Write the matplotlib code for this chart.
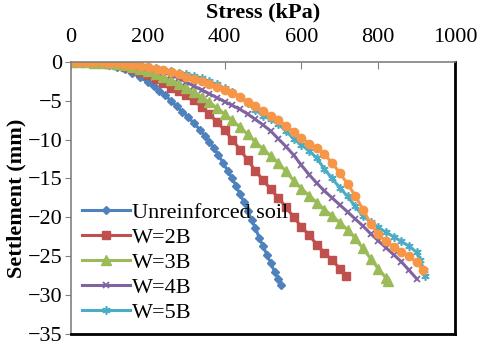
import matplotlib
matplotlib.use("Agg")
import matplotlib.pyplot as plt

plt.rcParams['font.family'] = ['Liberation Serif', 'DejaVu Serif']

# Data (stress kPa, settlement mm)
unr_x = [0, 20, 40, 60, 80, 100, 120, 140, 160, 180, 200, 215, 230, 245, 260, 275, 290, 305, 320, 335,
         348, 360, 372, 384, 396, 408, 420, 430, 440, 450, 460, 470, 480, 490, 500, 510, 520, 530, 540, 548]
unr_y = [0, 0, -0.05, -0.1, -0.2, -0.35, -0.6, -0.9, -1.4, -2.0, -2.6, -3.1, -3.7, -4.3, -5.0, -5.7, -6.4, -7.1, -7.9, -8.7,
         -9.5, -10.3, -11.1, -12.0, -13.0, -14.0, -15.0, -16.0, -17.0, -18.0, -19.2, -20.3, -21.4, -22.6, -23.7, -24.8, -25.9, -27.0, -28.0, -28.7]

w2_x = [0, 20, 40, 60, 80, 100, 120, 140, 160, 180, 200, 220, 240, 260, 280, 300, 320, 340, 360, 380,
        400, 420, 440, 460, 480, 500, 520, 540, 560, 580, 600, 620, 640, 660, 680, 700, 715]
w2_y = [0, 0, -0.05, -0.1, -0.15, -0.25, -0.4, -0.6, -0.9, -1.3, -1.7, -2.2, -2.7, -3.3, -3.8, -4.3, -4.9, -5.8, -6.7, -7.7,
        -8.8, -10.0, -11.3, -12.6, -14.0, -15.2, -16.4, -17.5, -18.7, -20.0, -21.2, -22.3, -23.5, -24.6, -25.5, -26.6, -27.6]

w3_x = [0, 20, 40, 60, 80, 100, 120, 140, 160, 180, 200, 220, 240, 260, 280, 300, 320, 340, 360, 380,
        400, 420, 440, 460, 480, 500, 520, 540, 560, 580, 600, 620, 640, 660, 680, 700, 720, 740, 760, 780, 800, 820, 825]
w3_y = [0, 0, -0.05, -0.1, -0.15, -0.2, -0.3, -0.45, -0.65, -0.9, -1.2, -1.5, -1.9, -2.3, -2.8, -3.3, -3.9, -4.5, -5.2, -5.9,
        -6.7, -7.5, -8.4, -9.3, -10.3, -11.2, -12.1, -13.0, -14.1, -15.3, -16.3, -17.2, -18.1, -19.0, -19.8, -20.7, -21.6, -22.7, -24.0, -25.3, -26.6, -27.8, -28.2]

w4_x = [0, 20, 40, 60, 80, 100, 120, 140, 160, 180, 200, 220, 240, 260, 280, 300, 320, 340, 360, 380,
        400, 420, 440, 460, 480, 500, 520, 540, 560, 580, 600, 620, 640, 660, 680, 700, 720, 740, 760, 780,
        800, 820, 840, 860, 880, 900]
w4_y = [0, 0, 0, -0.05, -0.1, -0.15, -0.2, -0.3, -0.45, -0.6, -0.8, -1.05, -1.35, -1.7, -2.1, -2.6, -3.1, -3.6, -4.1, -4.6,
        -5.1, -5.6, -6.1, -6.7, -7.4, -8.1, -8.9, -9.9, -10.9, -12.0, -13.3, -14.5, -15.6, -16.6, -17.5, -18.4, -19.3, -20.2, -21.1, -22.1,
        -23.0, -23.9, -24.8, -25.7, -26.8, -27.9]

w5_x = [0, 20, 40, 60, 80, 100, 120, 140, 160, 180, 200, 220, 240, 260, 280, 300, 320, 340, 360, 380,
        400, 420, 440, 460, 480, 500, 520, 540, 560, 580, 600, 620, 640, 660, 680, 700, 720, 740, 760, 780,
        800, 820, 840, 860, 880, 900, 910, 918, 922]
w5_y = [0, 0, 0, 0, -0.05, -0.1, -0.15, -0.2, -0.3, -0.45, -0.6, -0.8, -1.0, -1.2, -1.4, -1.6, -1.8, -2.1, -2.5, -2.9,
        -3.4, -3.9, -4.5, -5.3, -6.2, -6.9, -7.4, -8.0, -8.9, -9.9, -10.7, -11.4, -12.4, -13.8, -15.0, -16.2, -17.3, -18.6, -19.8, -20.6,
        -21.3, -21.9, -22.5, -23.1, -23.7, -24.5, -25.5, -26.8, -27.6]

w6_x = [0, 20, 40, 60, 80, 100, 120, 140, 160, 180, 200, 220, 240, 260, 280, 300, 320, 340, 360, 380,
        400, 420, 440, 460, 480, 500, 520, 540, 560, 580, 600, 620, 640, 660, 680, 700, 720, 740, 760, 780,
        800, 820, 840, 860, 880, 900, 917]
w6_y = [0, 0, 0, 0, -0.05, -0.1, -0.15, -0.25, -0.35, -0.5, -0.65, -0.85, -1.05, -1.3, -1.6, -1.9, -2.2, -2.5, -2.85, -3.2,
        -3.6, -4.0, -4.5, -5.1, -5.7, -6.3, -6.9, -7.5, -8.2, -9.0, -9.8, -10.5, -11.1, -11.9, -13.0, -14.3, -15.7, -17.2, -19.0, -20.8,
        -22.2, -23.1, -23.8, -24.4, -25.0, -25.8, -26.8]

labels = ["Unreinforced soil", "W=2B", "W=3B", "W=4B", "W=5B"]
x_ticks = [0, 200, 400, 600, 800, 1000]
y_ticks = [0, -5, -10, -15, -20, -25, -30, -35]

fig = plt.figure(figsize=(4.8, 3.46), dpi=100)
ax = fig.add_axes([0.148, 0.035, 0.8, 0.786])

lw = 2.2
ax.plot(unr_x, unr_y, color='#4F81BD', lw=lw, marker='D', ms=4.5, label=labels[0])
ax.plot(w2_x, w2_y, color='#C0504D', lw=lw, marker='s', ms=6, label=labels[1])
ax.plot(w3_x, w3_y, color='#9BBB59', lw=lw, marker='^', ms=6.5, label=labels[2])
ax.plot(w4_x, w4_y, color='#8064A2', lw=lw, marker='x', ms=5, mew=1.3, label=labels[3])
ax.plot(w5_x, w5_y, color='#4BACC6', lw=lw, marker=(6, 2, 0), ms=6, mew=1.2, label=labels[4])
ax.plot(w6_x, w6_y, color='#F79646', lw=lw, marker='o', ms=6, label='_nolegend_')

ax.set_xlim(0, 1000)
ax.set_ylim(-35, 0)
ax.set_xticks(x_ticks)
ax.set_yticks(y_ticks)
ax.xaxis.tick_top()
ax.xaxis.set_label_position('top')
ax.tick_params(axis='x', direction='in', length=5, color='#808080', labelsize=16, pad=11)
ax.tick_params(axis='y', direction='out', length=4, color='#808080', labelsize=16, pad=2)
ax.set_xlabel('Stress (kPa)', fontsize=16, fontweight='bold', va='bottom')
ax.xaxis.set_label_coords(0.5, 1.145)
ax.set_ylabel('Settlement (mm)', fontsize=16, fontweight='bold', labelpad=1)

for s in ['top', 'left']:
    ax.spines[s].set_color('#808080')
    ax.spines[s].set_linewidth(1.2)
for s in ['right', 'bottom']:
    ax.spines[s].set_color('black')
    ax.spines[s].set_linewidth(2.0)

leg = ax.legend(loc='lower left', frameon=False, fontsize=16, handlelength=2.15,
                handletextpad=0.1, labelspacing=0.2, borderaxespad=0.2,
                borderpad=0.3, bbox_to_anchor=(0.0, 0.0))

fig.savefig('out.png', dpi=100)
